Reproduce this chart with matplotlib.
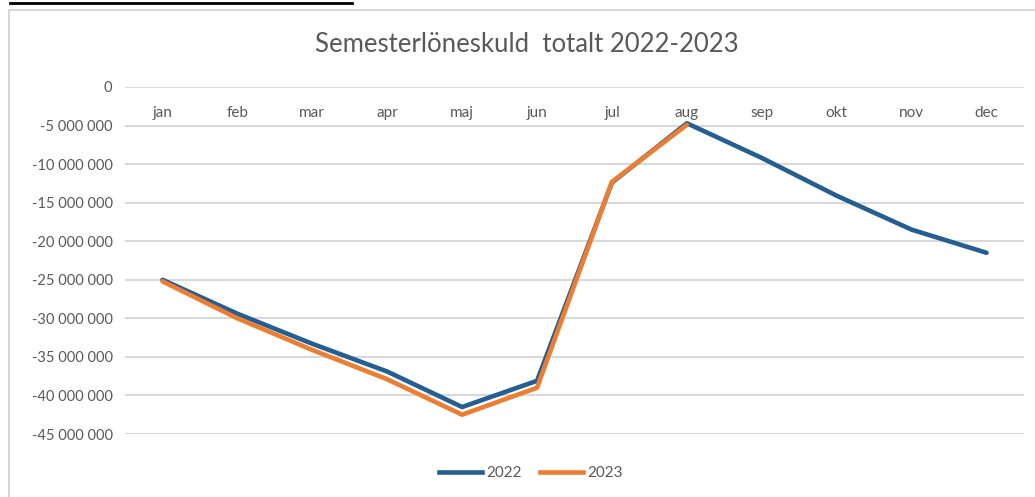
import matplotlib

matplotlib.use("Agg")
import matplotlib.pyplot as plt
from matplotlib.lines import Line2D
from matplotlib.patches import Rectangle
from matplotlib.ticker import FuncFormatter, MultipleLocator

months = ["jan", "feb", "mar", "apr", "maj", "jun", "jul", "aug", "sep", "okt", "nov", "dec"]
debt_2022 = [-25.0e6, -29.4e6, -33.3e6, -36.9e6, -41.5e6, -38.1e6,
             -12.4e6, -4.7e6, -9.2e6, -14.1e6, -18.5e6, -21.5e6]
debt_2023 = [-25.2e6, -30.0e6, -34.1e6, -37.9e6, -42.5e6, -39.0e6,
             -12.3e6, -4.9e6]
series_names = ["2022", "2023"]

BLUE = "#255E91"
ORANGE = "#ED7D31"
TEXT = "#595959"
GRID = "#D9D9D9"

plt.rcParams["font.family"] = ["Lato", "DejaVu Sans"]

W, H = 1035, 497
fig = plt.figure(figsize=(W / 100, H / 100), dpi=100, facecolor="white")

# chart frame + clipped caption underline from the source document
fig.patches.append(Rectangle((9 / W, -0.1), 1.2, 1 - 10 / H + 0.1, transform=fig.transFigure,
                             fill=False, edgecolor="#D0D0D0", lw=1.2))
fig.add_artist(Line2D([10 / W, 352 / W], [1 - 3 / H, 1 - 3 / H], color="black", lw=2))

ax = fig.add_axes([125 / W, 1 - 434 / H, 899 / W, 347 / H])
x = list(range(len(months)))
ax.plot(x, debt_2022, color=BLUE, lw=3.3, solid_joinstyle="round", solid_capstyle="round", zorder=3)
ax.plot(x[:len(debt_2023)], debt_2023, color=ORANGE, lw=3.3, solid_joinstyle="round",
        solid_capstyle="round", zorder=4)

ax.set_xlim(-0.5, len(months) - 0.5)
ax.set_ylim(-45e6, 0)
ax.yaxis.set_major_locator(MultipleLocator(5e6))
ax.yaxis.set_major_formatter(FuncFormatter(lambda v, _: f"{v:,.0f}".replace(",", " ")))
ax.yaxis.grid(True, color=GRID, lw=1.5)
ax.set_axisbelow(True)
for s in ax.spines.values():
    s.set_visible(False)
ax.tick_params(axis="y", length=0, pad=9, labelsize=10.5, labelcolor=TEXT)

ax.set_xticks(x)
ax.set_xticklabels(months)
ax.tick_params(axis="x", length=0, top=False, bottom=False, labeltop=True, labelbottom=False,
               pad=-23.5, labelsize=11, labelcolor=TEXT)

fig.text(527 / W, 1 - 45 / H, "Semesterlöneskuld  totalt 2022-2023", ha="center", va="center",
         fontsize=18.5, color=TEXT)

handles = [Line2D([], [], color=BLUE, lw=3.3), Line2D([], [], color=ORANGE, lw=3.3)]
fig.legend(handles, series_names, loc="center", bbox_to_anchor=(531 / W, 1 - 473 / H), ncol=2,
           frameon=False, fontsize=11, labelcolor=TEXT, handlelength=2.8, handletextpad=0.3,
           columnspacing=1.2)

fig.savefig("out.png", dpi=100, facecolor="white")
